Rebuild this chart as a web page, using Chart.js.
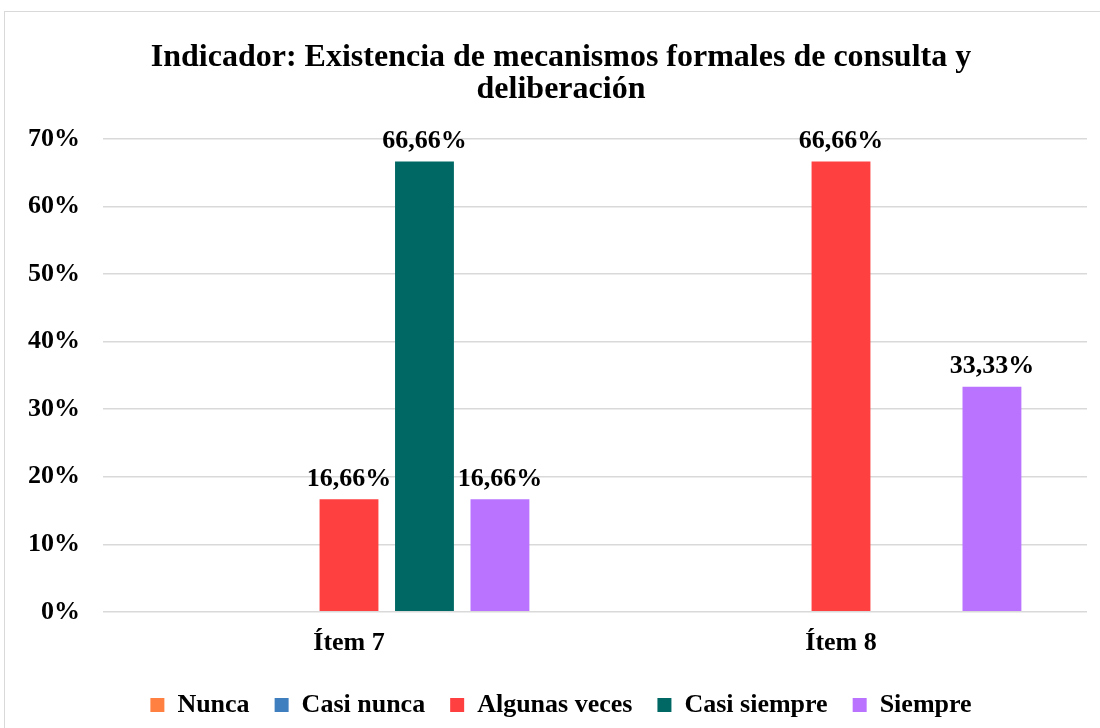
<!DOCTYPE html>
<html lang="es">
<head>
    <meta charset="UTF-8">
    <title>Indicador: Existencia de mecanismos formales de consulta y deliberación</title>
    <script src="https://cdn.jsdelivr.net/npm/chart.js"></script>
    <style>
        body {
            margin: 0;
            padding: 0;
            background-color: white;
        }

        .container {
            position: absolute;
            left: 4px;
            top: 11px;
            width: 1100px;
            height: 720px;
            border: 1px solid #d9d9d9;
            box-sizing: border-box;
        }
    </style>
</head>
<body>
<div class="container">
    <canvas id="grafico"></canvas>
</div>
<script>
    var categorias = ['Ítem 7', 'Ítem 8'];
    var nunca = [0, 0];
    var casiNunca = [0, 0];
    var algunasVeces = [16.66, 66.66];
    var casiSiempre = [66.66, 0];
    var siempre = [16.66, 33.33];
    var ticksY = [0, 10, 20, 30, 40, 50, 60, 70];

    var fuente = "'Liberation Serif', 'Times New Roman', serif";

    function formato(v) {
        return v.toFixed(2).replace('.', ',') + '%';
    }

    // etiquetas encima de las barras
    var etiquetas = {
        id: 'etiquetas',
        afterLayout: function (chart) {
            // que las etiquetas del eje y no se recorten
            chart.scales.y.left = 0;
        },
        afterDatasetsDraw: function (chart) {
            var ctx = chart.ctx;
            ctx.save();
            ctx.font = 'bold 26px ' + fuente;
            ctx.fillStyle = '#000';
            ctx.textAlign = 'center';
            ctx.textBaseline = 'bottom';
            chart.data.datasets.forEach(function (ds, i) {
                var meta = chart.getDatasetMeta(i);
                meta.data.forEach(function (bar, j) {
                    var v = ds.data[j];
                    if (v > 0) {
                        ctx.fillText(formato(v), bar.x, bar.y - 7);
                    }
                });
            });
            ctx.restore();
        }
    };

    new Chart(document.getElementById('grafico').getContext('2d'), {
        type: 'bar',
        data: {
            labels: categorias,
            datasets: [
                {label: 'Nunca', data: nunca, backgroundColor: '#FF8040'},
                {label: 'Casi nunca', data: casiNunca, backgroundColor: '#3F7FBF'},
                {label: 'Algunas veces', data: algunasVeces, backgroundColor: '#FF4040'},
                {label: 'Casi siempre', data: casiSiempre, backgroundColor: '#006864'},
                {label: 'Siempre', data: siempre, backgroundColor: '#B973FF'}
            ]
        },
        options: {
            responsive: true,
            maintainAspectRatio: false,
            animation: false,
            datasets: {
                bar: {
                    barPercentage: 0.78,
                    categoryPercentage: 0.767
                }
            },
            layout: {
                padding: {left: 30, right: 16, top: 20, bottom: 2}
            },
            plugins: {
                title: {
                    display: true,
                    text: ['Indicador: Existencia de mecanismos formales de consulta y', 'deliberación'],
                    color: '#000',
                    font: {family: fuente, size: 32, weight: 'bold', lineHeight: 1.0},
                    padding: {top: 10, bottom: 33}
                },
                legend: {
                    position: 'bottom',
                    labels: {
                        color: '#000',
                        font: {family: fuente, size: 26, weight: 'bold'},
                        boxWidth: 14,
                        boxHeight: 14,
                        padding: 25
                    }
                },
                tooltip: {enabled: false}
            },
            scales: {
                x: {
                    grid: {display: false},
                    border: {display: false},
                    ticks: {
                        color: '#000',
                        font: {family: fuente, size: 26, weight: 'bold'},
                        padding: 8
                    }
                },
                y: {
                    min: ticksY[0],
                    max: ticksY[ticksY.length - 1],
                    afterBuildTicks: function (axis) {
                        axis.ticks = ticksY.map(function (v) { return {value: v}; });
                    },
                    afterFit: function (axis) {
                        axis.width = axis.width - 30;
                    },
                    grid: {color: '#d9d9d9', lineWidth: 1.5, drawTicks: false},
                    border: {display: false},
                    ticks: {
                        color: '#000',
                        font: {family: fuente, size: 26, weight: 'bold'},
                        padding: 23,
                        callback: function (v) { return v + '%'; }
                    }
                }
            }
        },
        plugins: [etiquetas]
    });
</script>
</body>
</html>
